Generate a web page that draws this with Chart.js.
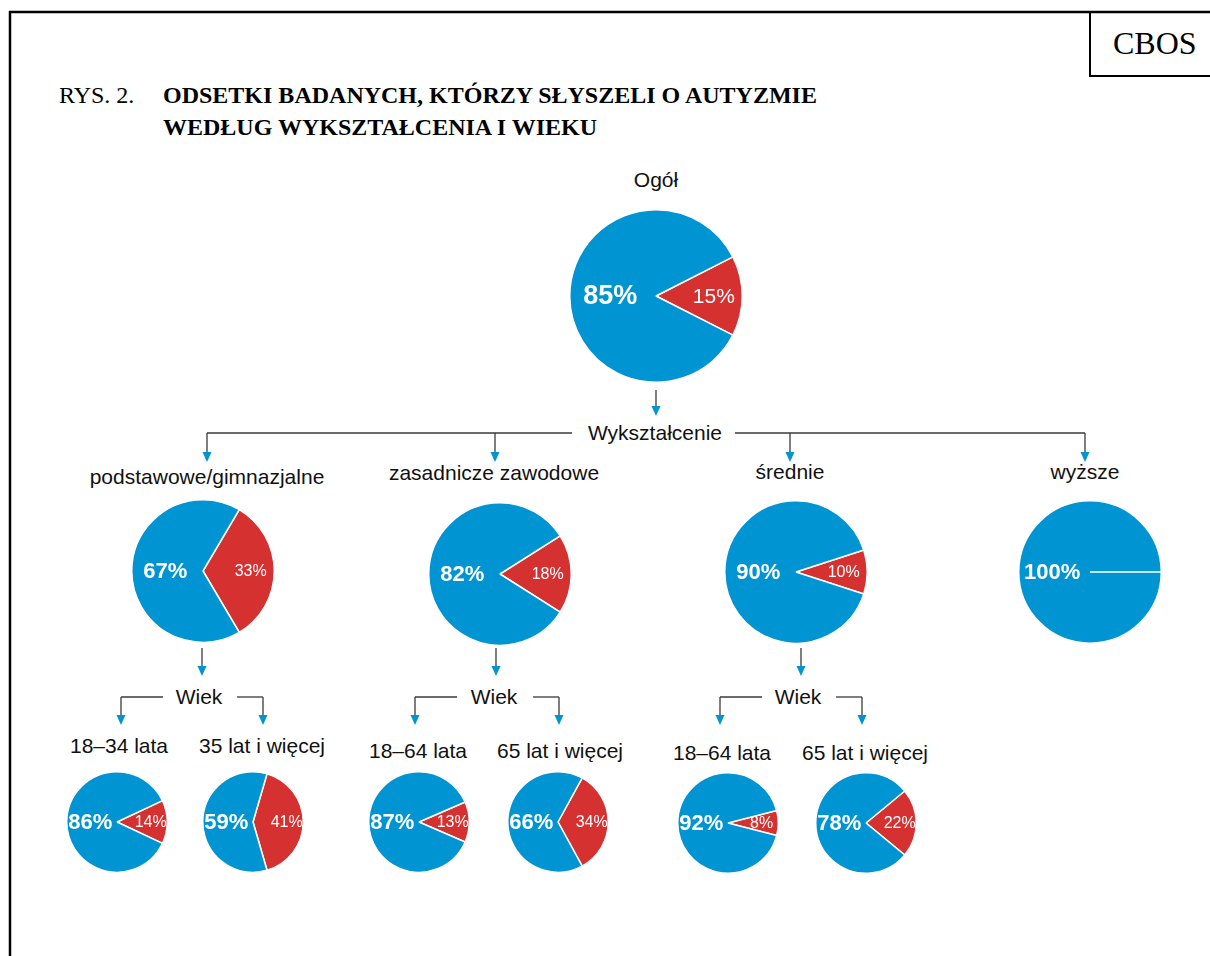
<!DOCTYPE html>
<html lang="pl">
<head>
<meta charset="utf-8">
<script src="https://cdn.jsdelivr.net/npm/chart.js@4/dist/chart.umd.min.js"></script>
<style>
  html, body { margin: 0; padding: 0; background: #fff; }
  #page { position: relative; width: 1210px; height: 956px; overflow: hidden; font-family: "Liberation Sans", Arial, sans-serif; color: #111; }
  #lines { position: absolute; left: 0; top: 0; }
  .lbl { position: absolute; transform: translate(-50%, -50%); white-space: nowrap; font-size: 21px; }
  .pie { position: absolute; }
  .serif { position: absolute; font-family: "Liberation Serif", "Times New Roman", serif; color: #000; white-space: nowrap; }
</style>
</head>
<body>
<div id="page">
  <svg id="lines" width="1210" height="956"></svg>
  <div class="serif" style="left:1113px; top:25px; font-size:32px;">CBOS</div>
  <div class="serif" style="left:59px; top:79px; font-size:24px; line-height:32px;">RYS. 2.</div>
  <div class="serif" style="left:163px; top:79px; font-size:24px; line-height:32px; font-weight:bold;">ODSETKI BADANYCH, KTÓRZY SŁYSZELI O AUTYZMIE<br>WEDŁUG WYKSZTAŁCENIA I WIEKU</div>
</div>
<script>
// percentages per pie: heard about autism / did not hear
var groups = ['Ogół', 'podstawowe/gimnazjalne', 'zasadnicze zawodowe', 'średnie', 'wyższe',
              '18–34 lata', '35 lat i więcej', '18–64 lata', '65 lat i więcej', '18–64 lata', '65 lat i więcej'];
var heard    = [85, 67, 82, 90, 100, 86, 59, 87, 66, 92, 78];
var notHeard = [15, 33, 18, 10, 0, 14, 41, 13, 34, 8, 22];

var BLUE = '#0095d2';
var RED = '#d53131';

// where each pie sits on the page (centre, radius, title position, label sizes)
var spots = [
  {x: 656, y: 296, r: 87, tx: 656, ty: 180, big: 27, small: 21},
  {x: 203, y: 571, r: 72, tx: 207, ty: 477, big: 22, small: 16},
  {x: 500, y: 574, r: 72, tx: 494, ty: 473, big: 22, small: 16},
  {x: 796, y: 572, r: 72, tx: 790, ty: 472, big: 22, small: 16},
  {x: 1090, y: 572, r: 72, tx: 1085, ty: 472, big: 22, small: 16},
  {x: 117, y: 822, r: 51, tx: 119, ty: 746, big: 22, small: 16},
  {x: 253, y: 822, r: 51, tx: 262, ty: 746, big: 22, small: 16},
  {x: 419, y: 822, r: 51, tx: 418, ty: 751, big: 22, small: 16},
  {x: 558, y: 822, r: 51, tx: 560, ty: 751, big: 22, small: 16},
  {x: 728, y: 823, r: 51, tx: 722, ty: 753, big: 22, small: 16},
  {x: 866, y: 823, r: 51, tx: 865, ty: 753, big: 22, small: 16}
];

var page = document.getElementById('page');

function addLabel(text, x, y) {
  var d = document.createElement('div');
  d.className = 'lbl';
  d.textContent = text;
  d.style.left = x + 'px';
  d.style.top = y + 'px';
  page.appendChild(d);
}

// percent labels inside the slices
var pctLabels = {
  id: 'pctLabels',
  afterDatasetsDraw: function(chart) {
    var ctx = chart.ctx;
    var meta = chart.getDatasetMeta(0);
    var vals = chart.data.datasets[0].data;
    var sz = chart.options.plugins.pctLabels;
    ctx.save();
    ctx.fillStyle = '#fff';
    ctx.textAlign = 'center';
    ctx.textBaseline = 'middle';
    meta.data.forEach(function(arc, j) {
      if (!vals[j]) return;
      var p = arc.getProps(['x', 'y', 'startAngle', 'endAngle', 'outerRadius'], true);
      var mid = (p.startAngle + p.endAngle) / 2;
      var isRed = j === 0;
      var d = p.outerRadius * (isRed ? 0.67 : 0.53);
      ctx.font = isRed ? sz.small + 'px "Liberation Sans", Arial, sans-serif'
                       : 'bold ' + sz.big + 'px "Liberation Sans", Arial, sans-serif';
      ctx.fillText(vals[j] + '%', p.x + Math.cos(mid) * d, p.y + Math.sin(mid) * d + 1);
    });
    ctx.restore();
  }
};

function makePie(i) {
  var s = spots[i];
  var size = 2 * s.r + 4;
  var c = document.createElement('canvas');
  c.className = 'pie';
  c.width = size;
  c.height = size;
  c.style.left = (s.x - size / 2) + 'px';
  c.style.top = (s.y - size / 2) + 'px';
  page.appendChild(c);
  addLabel(groups[i], s.tx, s.ty);

  new Chart(c.getContext('2d'), {
    type: 'pie',
    data: {
      labels: ['nie słyszeli', 'słyszeli'],
      datasets: [{
        data: [notHeard[i], heard[i]],
        backgroundColor: [RED, BLUE],
        borderColor: '#fff',
        borderWidth: 1.5
      }]
    },
    options: {
      responsive: false,
      animation: false,
      events: [],
      rotation: 90 - notHeard[i] * 1.8,
      layout: { padding: 2 },
      plugins: {
        legend: { display: false },
        tooltip: { enabled: false },
        pctLabels: { big: s.big, small: s.small }
      }
    },
    plugins: [pctLabels]
  });
}

for (var i = 0; i < groups.length; i++) makePie(i);

addLabel('Wykształcenie', 655, 433);
addLabel('Wiek', 199, 697);
addLabel('Wiek', 494, 697);
addLabel('Wiek', 798, 697);

// frame and tree connectors
var svg = document.getElementById('lines');
var NS = 'http://www.w3.org/2000/svg';
function el(tag, attrs) {
  var e = document.createElementNS(NS, tag);
  for (var k in attrs) e.setAttribute(k, attrs[k]);
  svg.appendChild(e);
}
function line(x1, y1, x2, y2, w, col) {
  el('line', {x1: x1, y1: y1, x2: x2, y2: y2, stroke: col || '#3a3a3a', 'stroke-width': w || 1.3});
}
function arrow(x, y1, y2) {
  line(x, y1, x, y2 - 8);
  el('polygon', {points: (x - 4.5) + ',' + (y2 - 10) + ' ' + (x + 4.5) + ',' + (y2 - 10) + ' ' + x + ',' + y2, fill: BLUE});
}

line(9, 12, 1210, 12, 2.5, '#000');
line(10, 11, 10, 956, 2.5, '#000');
line(1090, 12, 1090, 77, 2, '#000');
line(1089, 76, 1210, 76, 2, '#000');

arrow(656, 390, 416);

line(207, 433, 572, 433);
line(735, 433, 1085, 433);
arrow(207, 433, 462);
arrow(495, 433, 462);
arrow(790, 433, 462);
arrow(1085, 433, 462);

arrow(202, 648, 676);
arrow(496, 648, 676);
arrow(801, 648, 676);

[[121, 163, 237, 263], [415, 457, 533, 559], [720, 762, 836, 862]].forEach(function(g) {
  line(g[0], 697, g[1], 697);
  line(g[2], 697, g[3], 697);
  arrow(g[0], 697, 725);
  arrow(g[3], 697, 725);
});
</script>
</body>
</html>
